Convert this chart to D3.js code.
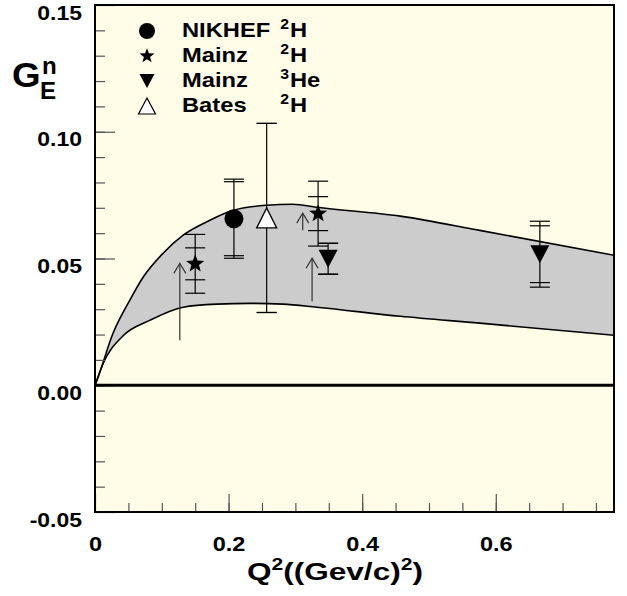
<!DOCTYPE html>
<html><head><meta charset="utf-8">
<script src="https://cdn.jsdelivr.net/npm/d3@7"></script>
<style>
body{margin:0;background:#fff;}
text{font-family:"Liberation Sans",Arial,Helvetica,sans-serif;font-weight:bold;fill:#000;}
</style>
</head><body>
<svg id="c" width="627" height="596"></svg>
<script>
// ---------------- data ----------------
const bandUpperQ = [0, 0.003, 0.027, 0.052, 0.072, 0.102, 0.132, 0.172, 0.207, 0.257, 0.296, 0.332, 0.457, 0.576, 0.777];
const bandUpperV = [0, 0.0020, 0.0205, 0.0335, 0.0426, 0.0521, 0.0592, 0.0651, 0.0690, 0.0710, 0.0714, 0.0702, 0.0667, 0.0611, 0.0513];
const bandLowerQ = [0, 0.012, 0.042, 0.082, 0.132, 0.183, 0.232, 0.281, 0.332, 0.457, 0.576, 0.777];
const bandLowerV = [0, 0.0085, 0.0195, 0.0256, 0.0308, 0.0320, 0.0323, 0.0320, 0.0308, 0.0272, 0.0245, 0.0197];

const nikhefQ = [0.208], nikhefV = [0.0657], nikhefErrStat = [0.0146], nikhefErrTot = [0.0156];
const mainzDQ = [0.150, 0.334], mainzDV = [0.0479, 0.0677], mainzDErrStat = [0.0063, 0.0067], mainzDErrTot = [0.0116, 0.0128];
const mainzHeQ = [0.349, 0.666], mainzHeV = [0.0499, 0.0517], mainzHeErrStat = [0.0061, 0.0112], mainzHeErrTot = [0.0061, 0.0130];
const batesQ = [0.257], batesV = [0.066], batesErrStat = [0.0373], batesErrTot = [0.0373];

const arrowQ = [0.127, 0.311, 0.325];
const arrowFrom = [0.0178, 0.0611, 0.0331];
const arrowTo = [0.0481, 0.0679, 0.0501];

const xTicks = [0, 0.2, 0.4, 0.6];
const xTickLabels = ["0", "0.2", "0.4", "0.6"];
const yTicks = [-0.05, 0, 0.05, 0.10, 0.15];
const yTickLabels = ["-0.05", "0.00", "0.05", "0.10", "0.15"];
const legendNames = ["NIKHEF", "Mainz", "Mainz", "Bates"];
const legendSup = ["2", "2", "3", "2"];
const legendNuc = ["H", "H", "He", "H"];

// ---------------- drawing ----------------
const svg = d3.select("#c");
const L = 95, R = 614, T = 5, B = 512;
const x = d3.scaleLinear().domain([0, 0.777]).range([L, R]);
const y = d3.scaleLinear().domain([-0.05, 0.15]).range([B, T]);
const SX = 1.12, SXL = 1.13;

svg.append("rect").attr("x", L).attr("y", T).attr("width", R - L).attr("height", B - T).attr("fill", "#fffce8");

// band
const upPts = bandUpperQ.map((q, i) => [x(q), y(bandUpperV[i])]);
const loPts = bandLowerQ.map((q, i) => [x(q), y(bandLowerV[i])]);
const line = d3.line().curve(d3.curveMonotoneX);
svg.append("path")
  .attr("d", line(upPts) + line(loPts.slice().reverse()).replace(/^M/, "L") + "Z")
  .attr("fill", "#cccccc");
[upPts, loPts].forEach(p => svg.append("path").attr("d", line(p)).attr("fill", "none")
  .attr("stroke", "#000").attr("stroke-width", 1.6));

// axes ticks
function styleAxis(g) { g.select(".domain").remove(); g.attr("font-family", null).attr("font-size", null); g.selectAll("line").attr("stroke", "#555").attr("stroke-width", 1.2); }
const gyMin = svg.append("g").attr("transform", `translate(${L},0)`)
  .call(d3.axisLeft(y).tickValues(d3.range(-4, 15).map(k => k / 100)).tickSize(-10).tickFormat(""));
styleAxis(gyMin);
const gy = svg.append("g").attr("transform", `translate(${L},0)`)
  .call(d3.axisLeft(y).tickValues(yTicks).tickSize(-20).tickFormat((d, i) => yTickLabels[i]));
styleAxis(gy);
gy.selectAll("text").attr("x", -13 / SX).attr("dy", null).attr("y", 14)
  .attr("transform", `scale(${SX},1)`).attr("font-size", 20.5).attr("text-anchor", "end");

const gxMin = svg.append("g").attr("transform", `translate(0,${B})`)
  .call(d3.axisBottom(x).tickValues(d3.range(1, 16).map(k => k * 0.05)).tickSize(-9).tickFormat(""));
styleAxis(gxMin);
const gx = svg.append("g").attr("transform", `translate(0,${B})`)
  .call(d3.axisBottom(x).tickValues(xTicks).tickSize(-18).tickFormat((d, i) => xTickLabels[i]));
styleAxis(gx);
gx.selectAll("text").attr("y", 39).attr("dy", null).attr("x", 0)
  .attr("transform", `scale(${SX},1)`).attr("font-size", 21).attr("text-anchor", "middle");

// zero line
svg.append("line").attr("x1", L).attr("x2", R).attr("y1", y(0)).attr("y2", y(0))
  .attr("stroke", "#000").attr("stroke-width", 3);

// error bars
function errBars(qs, vs, e1, e2) {
  qs.forEach((q, i) => {
    const cx = x(q), v = vs[i];
    svg.append("line").attr("x1", cx).attr("x2", cx).attr("y1", y(v + e2[i])).attr("y2", y(v - e2[i]))
      .attr("stroke", "#000").attr("stroke-width", 1.2);
    [v + e1[i], v - e1[i], v + e2[i], v - e2[i]].forEach(c =>
      svg.append("line").attr("x1", cx - 10).attr("x2", cx + 10).attr("y1", y(c)).attr("y2", y(c))
        .attr("stroke", "#000").attr("stroke-width", 1.2));
  });
}
errBars(nikhefQ, nikhefV, nikhefErrStat, nikhefErrTot);
errBars(mainzDQ, mainzDV, mainzDErrStat, mainzDErrTot);
errBars(mainzHeQ, mainzHeV, mainzHeErrStat, mainzHeErrTot);
errBars(batesQ, batesV, batesErrStat, batesErrTot);

// arrows
arrowQ.forEach((q, i) => {
  const ax = x(q), y0 = y(arrowFrom[i]), y1 = y(arrowTo[i]);
  svg.append("line").attr("x1", ax).attr("x2", ax).attr("y1", y0).attr("y2", y1)
    .attr("stroke", "#333").attr("stroke-width", 1.2);
  svg.append("path").attr("d", `M${ax - 6},${y1 + 10}L${ax},${y1}L${ax + 6},${y1 + 10}`)
    .attr("fill", "none").attr("stroke", "#333").attr("stroke-width", 1.2);
});

// markers
function starPath(R) {
  const r = R * 0.42, pts = [];
  for (let k = 0; k < 10; k++) {
    const a = -Math.PI / 2 + k * Math.PI / 5, rr = k % 2 ? r : R;
    pts.push([rr * Math.cos(a), rr * Math.sin(a)]);
  }
  return "M" + pts.map(p => p.join(",")).join("L") + "Z";
}
function triDown(w, h) { return `M${-w / 2},${-h / 2}L${w / 2},${-h / 2}L0,${h / 2}Z`; }
function triUp(w, h) { return `M${-w / 2},${h / 2}L${w / 2},${h / 2}L0,${-h / 2}Z`; }

nikhefQ.forEach((q, i) => svg.append("circle").attr("cx", x(q)).attr("cy", y(nikhefV[i])).attr("r", 9.5).attr("fill", "#000"));
mainzDQ.forEach((q, i) => svg.append("path").attr("d", starPath(9.5)).attr("transform", `translate(${x(q)},${y(mainzDV[i])})`).attr("fill", "#000"));
mainzHeQ.forEach((q, i) => svg.append("path").attr("d", triDown(19, 18)).attr("transform", `translate(${x(q)},${y(mainzHeV[i])})`).attr("fill", "#000"));
batesQ.forEach((q, i) => svg.append("path").attr("d", triUp(20, 20)).attr("transform", `translate(${x(q)},${y(batesV[i])})`)
  .attr("fill", "#fff").attr("stroke", "#000").attr("stroke-width", 1.3));

// legend
const rowY = [31, 56, 81, 106];
const lx = 147;
svg.append("circle").attr("cx", lx).attr("cy", rowY[0]).attr("r", 8).attr("fill", "#000");
svg.append("path").attr("d", starPath(7.8)).attr("transform", `translate(${lx},${rowY[1]})`).attr("fill", "#000");
svg.append("path").attr("d", triDown(15, 14)).attr("transform", `translate(${lx},${rowY[2]})`).attr("fill", "#000");
svg.append("path").attr("d", triUp(17, 16)).attr("transform", `translate(${lx},${rowY[3]})`)
  .attr("fill", "#fff").attr("stroke", "#000").attr("stroke-width", 1.2);
legendNames.forEach((n, i) => {
  const by = rowY[i] + 5.5;
  svg.append("text").attr("transform", `translate(182,${by}) scale(${SXL},1)`).attr("font-size", 21).text(n);
  svg.append("text").attr("transform", `translate(289,${by - 8}) scale(${SXL},1)`).attr("font-size", 14)
    .attr("text-anchor", "end").text(legendSup[i]);
  svg.append("text").attr("transform", `translate(290,${by}) scale(${SXL},1)`).attr("font-size", 21).text(legendNuc[i]);
});

// y title  G_E^n
svg.append("text").attr("transform", `translate(12,87) scale(1.05,1)`).attr("font-size", 35).text("G");
svg.append("text").attr("transform", `translate(40,99) scale(1.05,1)`).attr("font-size", 23).text("E");
svg.append("text").attr("transform", `translate(42,74) scale(1.05,1)`).attr("font-size", 23).text("n");

// x title
const xt = svg.append("text").attr("font-size", 24).attr("y", 580).attr("x", 0);
xt.append("tspan").text("Q");
xt.append("tspan").attr("font-size", 16).attr("dy", -10).text("2");
xt.append("tspan").attr("dy", 10).text("((Gev/c)");
xt.append("tspan").attr("font-size", 16).attr("dy", -10).text("2");
xt.append("tspan").attr("dy", 10).text(")");
const w0 = xt.node().getBBox().width;
xt.attr("transform", `translate(247,0) scale(${176 / w0},1)`);

// frame border
svg.append("rect").attr("x", L).attr("y", T).attr("width", R - L).attr("height", B - T)
  .attr("fill", "none").attr("stroke", "#000").attr("stroke-width", 2);
</script>
</body></html>
